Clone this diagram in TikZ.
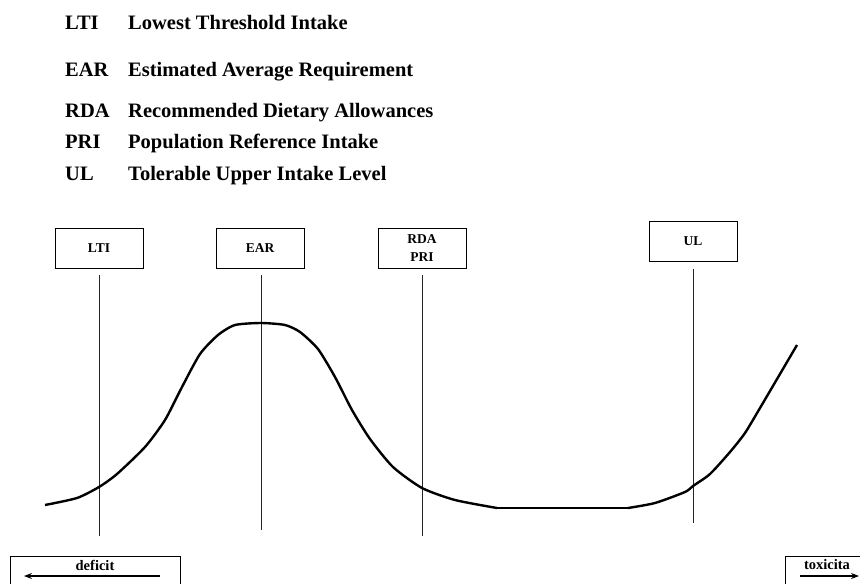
\documentclass[tikz,border=0pt]{standalone}
\usepackage{fontspec}
\setmainfont{Liberation Serif}
\usetikzlibrary{arrows.meta}
\begin{document}
\begin{tikzpicture}[x=1pt,y=-1pt,
    level box/.style={draw=black,rectangle,minimum width=88pt,minimum height=40pt,font=\bfseries\fontsize{13.5}{15}\selectfont,align=center,line width=0.8pt},
    side box/.style={draw=black,rectangle,anchor=north west,inner sep=0pt,line width=0.8pt},
    key abbr/.style={anchor=base west,font=\bfseries\fontsize{20.5}{22}\selectfont,inner sep=0pt},
    side label/.style={font=\bfseries\fontsize{14.5}{16}\selectfont},
    side arrow/.style={-{Stealth[length=8pt,width=6pt]},line width=1.1pt},
    level line/.style={draw=black!85,line width=0.8pt}]
                \useasboundingbox (0,0) rectangle (860,584);
                \node[key abbr] (kLTI) at (65,29) {LTI};
                \node[key abbr] (dLTI) at (128,29) {Lowest Threshold Intake};
                \node[key abbr] (kEAR) at (65,76) {EAR};
                \node[key abbr] (dEAR) at (128,76) {Estimated Average Requirement};
                \node[key abbr] (kRDA) at (65,117) {RDA};
                \node[key abbr] (dRDA) at (128,117) {Recommended Dietary Allowances};
                \node[key abbr] (kPRI) at (65,148) {PRI};
                \node[key abbr] (dPRI) at (128,148) {Population Reference Intake};
                \node[key abbr] (kUL) at (65,180) {UL};
                \node[key abbr] (dUL) at (128,180) {Tolerable Upper Intake Level};
                \node[level box] (lti) at (99,248) {LTI};
                \node[level box] (ear) at (260,248) {EAR};
                \node[level box] (rda) at (422,248) {RDA\\[3pt]PRI};
                \node[level box] (ul) at (693,241.5) {UL};
                \coordinate (ltiend) at (99,536);
                \coordinate (earend) at (261,530);
                \coordinate (rdaend) at (422,536);
                \coordinate (ulend) at (693,523);
                \draw[level line] ([yshift=-7pt]lti.south -| ltiend) -- (ltiend);
                \draw[level line] ([yshift=-7pt]ear.south -| earend) -- (earend);
                \draw[level line] ([yshift=-7pt]rda.south -| rdaend) -- (rdaend);
                \draw[level line] ([yshift=-7pt]ul.south -| ulend) -- (ulend);
                \draw[line width=2.4pt,line join=round] plot[smooth,tension=0.4] coordinates {(45,505) (77,498) (99,487) (117,474) (145,447) (165,420) (182,387) (200,354) (218,335) (235,325) (261,323) (285,325) (300,332) (318,349) (335,377) (352,410) (370,439) (393,467) (422,488) (455,500) (497,508)};
                \draw[line width=2.4pt] (497,508) -- (628,508);
                \draw[line width=2.4pt,line join=round] plot[smooth,tension=0.4] coordinates {(628,508) (655,503) (685,492) (693,486) (710,474) (730,452) (745,433) (760,408) (770,391) (797,345)};
                \node[side box,minimum width=170pt,minimum height=40pt] (deficitbox) at (10,556) {};
                \node[side label] (deficit) at (95,565) {deficit};
                \coordinate (deficittip) at (24,576);
                \draw[side arrow] (160,576) -- (deficittip);
                \node[side box,minimum width=90pt,minimum height=40pt] (toxbox) at (785,556) {};
                \node[side label] (toxicita) at (827,565) {toxicita};
                \coordinate (toxtip) at (859,576);
                \draw[side arrow] (800,576) -- (toxtip);
            \end{tikzpicture}
\end{document}
